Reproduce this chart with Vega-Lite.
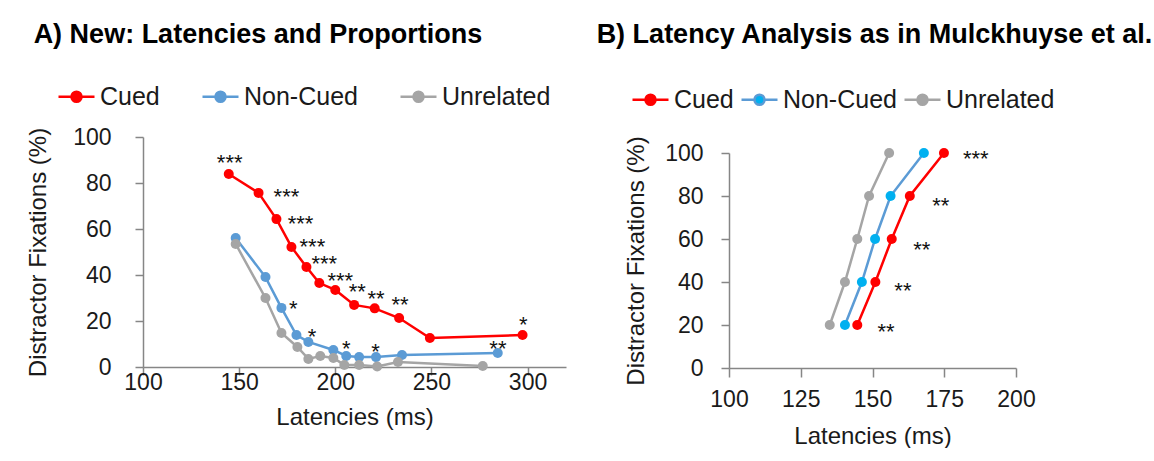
{
  "$schema": "https://vega.github.io/schema/vega-lite/v6.json",
  "padding": {"left": 26, "top": 21, "right": 0, "bottom": 0},
  "autosize": {"type": "pad"},
  "background": "white",
  "config": {
    "font": "Liberation Sans",
    "view": {"stroke": null},
    "concat": {"spacing": 30},
    "axis": {
      "grid": false,
      "domainColor": "#868686",
      "tickColor": "#868686",
      "domainWidth": 1.5,
      "tickWidth": 1.5,
      "tickSize": 8,
      "labelFont": "Liberation Sans",
      "labelFontSize": 23,
      "labelColor": "#1a1a1a",
      "labelFlush": false,
      "titleFont": "Liberation Sans",
      "titleFontSize": 24,
      "titleFontWeight": "normal",
      "titleColor": "#1a1a1a"
    },
    "legend": {
      "labelFont": "Liberation Sans",
      "labelFontSize": 25,
      "labelColor": "#1a1a1a",
      "padding": 0,
      "symbolType": "M-1,0L-0.28,0M0.28,0L1,0M-0.28,0A0.28,0.28,0,1,1,0.28,0A0.28,0.28,0,1,1,-0.28,0Z",
      "symbolSize": 1296,
      "symbolStrokeWidth": 2.5,
      "labelOffset": 4,
      "symbolOpacity": 1
    },
    "title": {"font": "Liberation Sans", "fontSize": 27, "fontWeight": "bold", "color": "#000000", "anchor": "start"}
  },
  "resolve": {"scale": {"stroke": "independent", "fill": "independent"}, "legend": {"stroke": "independent", "fill": "independent"}},
  "hconcat": [
    {
      "width": 423,
      "height": 230,
      "title": {"text": "A) New: Latencies and Proportions", "frame": "bounds", "dx": 7, "offset": 28},
      "data": {"values": [
        {"cond": "Cued", "lat": 144.6, "pct": 83.9},
        {"cond": "Cued", "lat": 160.1, "pct": 75.7},
        {"cond": "Cued", "lat": 169.4, "pct": 64.3},
        {"cond": "Cued", "lat": 177.2, "pct": 52.2},
        {"cond": "Cued", "lat": 185.0, "pct": 43.5},
        {"cond": "Cued", "lat": 191.7, "pct": 36.5},
        {"cond": "Cued", "lat": 200.0, "pct": 33.5},
        {"cond": "Cued", "lat": 209.8, "pct": 27.0},
        {"cond": "Cued", "lat": 220.5, "pct": 25.5},
        {"cond": "Cued", "lat": 233.2, "pct": 21.3},
        {"cond": "Cued", "lat": 249.2, "pct": 12.6},
        {"cond": "Cued", "lat": 297.4, "pct": 13.9},
        {"cond": "Non-Cued", "lat": 148.2, "pct": 56.1},
        {"cond": "Non-Cued", "lat": 163.7, "pct": 39.1},
        {"cond": "Non-Cued", "lat": 172.0, "pct": 25.7},
        {"cond": "Non-Cued", "lat": 179.8, "pct": 13.9},
        {"cond": "Non-Cued", "lat": 186.0, "pct": 10.9},
        {"cond": "Non-Cued", "lat": 199.0, "pct": 7.4},
        {"cond": "Non-Cued", "lat": 205.7, "pct": 4.8},
        {"cond": "Non-Cued", "lat": 212.4, "pct": 4.3},
        {"cond": "Non-Cued", "lat": 221.2, "pct": 4.3},
        {"cond": "Non-Cued", "lat": 234.7, "pct": 5.2},
        {"cond": "Non-Cued", "lat": 284.5, "pct": 6.1},
        {"cond": "Unrelated", "lat": 148.2, "pct": 53.5},
        {"cond": "Unrelated", "lat": 163.7, "pct": 30.0},
        {"cond": "Unrelated", "lat": 172.0, "pct": 14.8},
        {"cond": "Unrelated", "lat": 180.3, "pct": 8.7},
        {"cond": "Unrelated", "lat": 186.0, "pct": 3.5},
        {"cond": "Unrelated", "lat": 192.2, "pct": 4.8},
        {"cond": "Unrelated", "lat": 199.0, "pct": 3.9},
        {"cond": "Unrelated", "lat": 204.7, "pct": 0.9},
        {"cond": "Unrelated", "lat": 212.4, "pct": 0.9},
        {"cond": "Unrelated", "lat": 221.8, "pct": 0.2},
        {"cond": "Unrelated", "lat": 232.6, "pct": 2.2},
        {"cond": "Unrelated", "lat": 276.7, "pct": 0.4}
      ]},
      "encoding": {
        "x": {"field": "lat", "type": "quantitative", "scale": {"domain": [100, 320], "nice": false, "zero": false},
              "axis": {"title": "Latencies (ms)", "values": [100, 150, 200, 250, 300], "labelPadding": -4, "titlePadding": 11}},
        "y": {"field": "pct", "type": "quantitative", "scale": {"domain": [0, 100], "nice": false},
              "axis": {"title": "Distractor Fixations (%)", "values": [0, 20, 40, 60, 80, 100], "labelPadding": 24, "titlePadding": 22}}
      },
      "layer": [
        {
          "mark": {"type": "line", "strokeWidth": 2.5},
          "encoding": {
            "stroke": {"field": "cond", "type": "nominal",
              "scale": {"domain": ["Cued", "Non-Cued", "Unrelated"], "range": ["#FF0000", "#5B9BD5", "#A5A5A5"]},
              "legend": {"title": null, "orient": "none", "direction": "horizontal", "legendX": -86, "legendY": -60, "columnPadding": 37}}
          }
        },
        {
          "mark": {"type": "point", "filled": true, "size": 100, "opacity": 1},
          "encoding": {
            "fill": {"field": "cond", "type": "nominal",
              "scale": {"domain": ["Cued", "Non-Cued", "Unrelated"], "range": ["#FF0000", "#5B9BD5", "#A5A5A5"]},
              "legend": {"title": null, "orient": "none", "direction": "horizontal", "legendX": -86, "legendY": -60, "columnPadding": 37}}
          }
        },
        {
          "data": {"values": [
            {"lat": 145.1, "pct": 91.3, "sig": "***"},
            {"lat": 174.6, "pct": 76.7, "sig": "***"},
            {"lat": 181.9, "pct": 64.9, "sig": "***"},
            {"lat": 188.1, "pct": 54.9, "sig": "***"},
            {"lat": 194.3, "pct": 47.4, "sig": "***"},
            {"lat": 202.6, "pct": 40.0, "sig": "***"},
            {"lat": 211.4, "pct": 35.2, "sig": "**"},
            {"lat": 221.2, "pct": 32.2, "sig": "**"},
            {"lat": 233.7, "pct": 29.6, "sig": "**"},
            {"lat": 297.8, "pct": 20.7, "sig": "*"},
            {"lat": 178.1, "pct": 27.7, "sig": "*"},
            {"lat": 187.9, "pct": 15.8, "sig": "*"},
            {"lat": 205.7, "pct": 10.6, "sig": "*"},
            {"lat": 220.9, "pct": 9.1, "sig": "*"},
            {"lat": 284.6, "pct": 10.6, "sig": "**"}
          ]},
          "mark": {"type": "text", "fontSize": 22, "align": "center", "baseline": "alphabetic", "dy": 13, "color": "#111111"},
          "encoding": {"text": {"field": "sig"}}
        }
      ]
    },
    {
      "width": 287,
      "height": 231,
      "title": {"text": "B) Latency Analysis as in Mulckhuyse et al.", "frame": "bounds", "dx": -28, "offset": 31},
      "data": {"values": [
        {"cond": "Cued", "lat": 144.7, "pct": 20},
        {"cond": "Cued", "lat": 151.0, "pct": 40},
        {"cond": "Cued", "lat": 156.7, "pct": 60},
        {"cond": "Cued", "lat": 163.0, "pct": 80},
        {"cond": "Cued", "lat": 174.9, "pct": 100},
        {"cond": "Non-Cued", "lat": 140.4, "pct": 20},
        {"cond": "Non-Cued", "lat": 146.3, "pct": 40},
        {"cond": "Non-Cued", "lat": 150.9, "pct": 60},
        {"cond": "Non-Cued", "lat": 156.3, "pct": 80},
        {"cond": "Non-Cued", "lat": 167.9, "pct": 100},
        {"cond": "Unrelated", "lat": 135.1, "pct": 20},
        {"cond": "Unrelated", "lat": 140.4, "pct": 40},
        {"cond": "Unrelated", "lat": 144.7, "pct": 60},
        {"cond": "Unrelated", "lat": 148.8, "pct": 80},
        {"cond": "Unrelated", "lat": 155.8, "pct": 100}
      ]},
      "encoding": {
        "x": {"field": "lat", "type": "quantitative", "scale": {"domain": [100, 200], "nice": false, "zero": false},
              "axis": {"title": "Latencies (ms)", "values": [100, 125, 150, 175, 200], "tickSize": 9, "labelPadding": 11, "titlePadding": 13}},
        "y": {"field": "pct", "type": "quantitative", "scale": {"domain": [0, 100], "nice": false, "range": [231, 16]},
              "axis": {"title": "Distractor Fixations (%)", "values": [0, 20, 40, 60, 80, 100], "labelPadding": 18, "titlePadding": 16}}
      },
      "layer": [
        {
          "mark": {"type": "line", "strokeWidth": 2.5},
          "encoding": {
            "stroke": {"field": "cond", "type": "nominal",
              "scale": {"domain": ["Cued", "Non-Cued", "Unrelated"], "range": ["#FF0000", "#5B9BD5", "#A5A5A5"]},
              "legend": {"title": null, "orient": "none", "direction": "horizontal", "legendX": -98, "legendY": -57, "columnPadding": 2}}
          }
        },
        {
          "mark": {"type": "point", "filled": true, "size": 100, "opacity": 1},
          "encoding": {
            "fill": {"field": "cond", "type": "nominal",
              "scale": {"domain": ["Cued", "Non-Cued", "Unrelated"], "range": ["#FF0000", "#00B0F0", "#A5A5A5"]},
              "legend": {"title": null, "orient": "none", "direction": "horizontal", "legendX": -98, "legendY": -57, "columnPadding": 2}}
          }
        },
        {
          "data": {"values": [
            {"lat": 186.0, "pct": 100, "sig": "***"},
            {"lat": 173.8, "pct": 78.3, "sig": "**"},
            {"lat": 167.2, "pct": 57.8, "sig": "**"},
            {"lat": 160.6, "pct": 38.8, "sig": "**"},
            {"lat": 154.7, "pct": 19.7, "sig": "**"}
          ]},
          "mark": {"type": "text", "fontSize": 22, "align": "center", "baseline": "alphabetic", "dy": 13, "color": "#111111"},
          "encoding": {"text": {"field": "sig"}}
        }
      ]
    }
  ]
}
